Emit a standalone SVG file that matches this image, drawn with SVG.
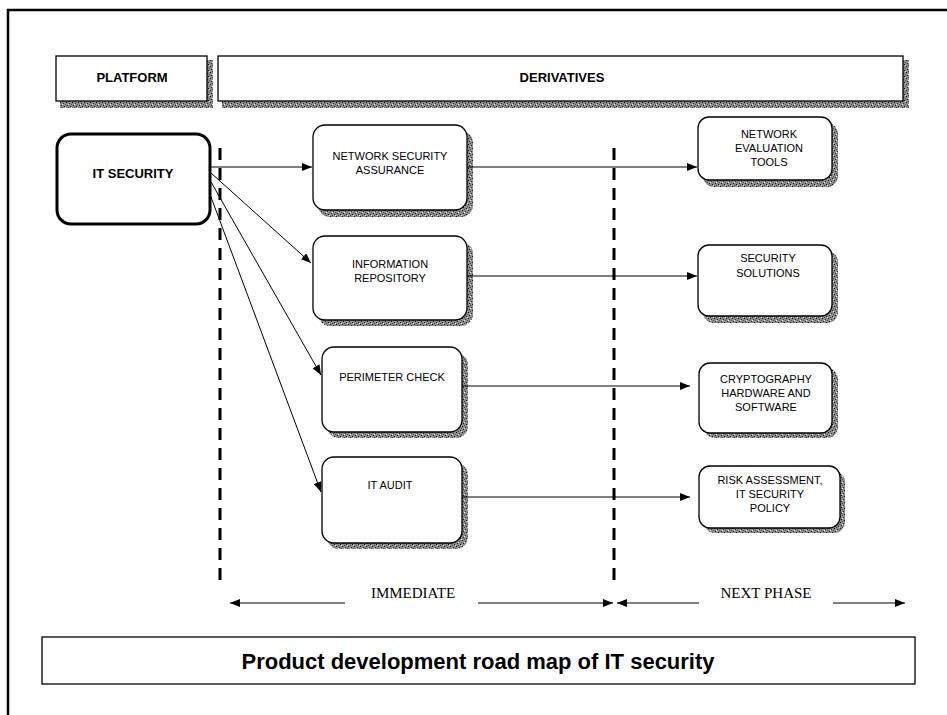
<svg xmlns="http://www.w3.org/2000/svg" width="947" height="715" viewBox="0 0 947 715">
<defs>
<pattern id="grain" width="6" height="6" patternUnits="userSpaceOnUse">
<rect width="6" height="6" fill="#8c8c8c"/>
<rect x="0" y="0" width="1" height="1" fill="#111"/>
<rect x="3" y="1" width="1" height="1" fill="#333"/>
<rect x="1" y="3" width="1" height="1" fill="#222"/>
<rect x="4" y="4" width="1" height="1" fill="#111"/>
<rect x="2" y="5" width="1" height="1" fill="#444"/>
<rect x="5" y="2" width="1" height="1" fill="#555"/>
<rect x="2" y="2" width="1" height="1" fill="#eee"/>
<rect x="5" y="5" width="1" height="1" fill="#ddd"/>
</pattern>
<marker id="ah" viewBox="0 0 10 8" refX="10" refY="4" markerWidth="10" markerHeight="8" markerUnits="userSpaceOnUse" orient="auto">
<path d="M0,0 L10,4 L0,8 Z" fill="#000"/>
</marker>
</defs>
<style>
.frame{fill:none;stroke:#000;stroke-width:2.5}
.hdr{fill:#fff;stroke:#000;stroke-width:1.3}
.shd{fill:url(#grain)}
.box{fill:#fff;stroke:#000;stroke-width:1.3}
.main{fill:#fff;stroke:#000;stroke-width:3}
.t{font-family:"Liberation Sans",Arial,sans-serif;font-size:11px;fill:#000;text-anchor:middle}
.hb{font-family:"Liberation Sans",Arial,sans-serif;font-size:13px;font-weight:bold;fill:#000;text-anchor:middle}
.ser{font-family:"Liberation Serif","Times New Roman",serif;font-size:15px;fill:#000;text-anchor:middle}
.ttl{font-family:"Liberation Sans",Arial,sans-serif;font-size:22px;font-weight:bold;fill:#000;text-anchor:middle}
.c{fill:none;stroke:#000;stroke-width:1}
.dash{fill:none;stroke:#000;stroke-width:3;stroke-dasharray:12 8}
</style>
<rect width="947" height="715" fill="#fff"/>
<path class="frame" d="M8,715 L8,10 L947,10"/>

<g id="hdr-platform">
<rect class="shd" x="60" y="60" width="153" height="48"/>
<rect class="hdr" x="56" y="56" width="151" height="45"/>
<text class="hb" x="132" y="82">PLATFORM</text>
</g>
<g id="hdr-derivatives">
<rect class="shd" x="222" y="60" width="687" height="48"/>
<rect class="hdr" x="218" y="56" width="685" height="45"/>
<text class="hb" x="562" y="82" font-size="12.5">DERIVATIVES</text>
</g>

<g id="it-security">
<rect class="main" x="57" y="134" width="153" height="90" rx="14"/>
<text class="hb" x="133" y="178" font-size="14">IT SECURITY</text>
</g>

<g id="nsa">
<rect class="shd" x="318" y="131" width="155" height="86" rx="12"/>
<rect class="box" x="313" y="125" width="154" height="85" rx="12"/>
<text class="t" x="390" y="160">NETWORK SECURITY</text>
<text class="t" x="390" y="174">ASSURANCE</text>
</g>
<g id="ir">
<rect class="shd" x="318" y="242" width="155" height="84" rx="12"/>
<rect class="box" x="313" y="236" width="154" height="84" rx="12"/>
<text class="t" x="390" y="268">INFORMATION</text>
<text class="t" x="390" y="282">REPOSITORY</text>
</g>
<g id="pc">
<rect class="shd" x="327" y="353" width="141" height="85" rx="12"/>
<rect class="box" x="322" y="347" width="140" height="85" rx="12"/>
<text class="t" x="392" y="381">PERIMETER CHECK</text>
</g>
<g id="ia">
<rect class="shd" x="327" y="463" width="141" height="86" rx="12"/>
<rect class="box" x="322" y="457" width="140" height="86" rx="12"/>
<text class="t" x="390" y="489">IT AUDIT</text>
</g>

<g id="net-eval">
<rect class="shd" x="703" y="123" width="135" height="64" rx="11"/>
<rect class="box" x="698" y="117" width="134" height="63" rx="11"/>
<text class="t" x="769" y="138">NETWORK</text>
<text class="t" x="769" y="152">EVALUATION</text>
<text class="t" x="769" y="166">TOOLS</text>
</g>
<g id="sec-sol">
<rect class="shd" x="703" y="251" width="135" height="72" rx="11"/>
<rect class="box" x="698" y="245" width="134" height="71" rx="11"/>
<text class="t" x="768" y="262">SECURITY</text>
<text class="t" x="768" y="277">SOLUTIONS</text>
</g>
<g id="crypto">
<rect class="shd" x="704" y="368" width="134" height="70" rx="11"/>
<rect class="box" x="699" y="363" width="133" height="70" rx="11"/>
<text class="t" x="766" y="383">CRYPTOGRAPHY</text>
<text class="t" x="766" y="397">HARDWARE AND</text>
<text class="t" x="766" y="411">SOFTWARE</text>
</g>
<g id="risk">
<rect class="shd" x="704" y="471" width="141" height="62" rx="11"/>
<rect class="box" x="699" y="466" width="141" height="62" rx="11"/>
<text class="t" x="770" y="484">RISK ASSESSMENT,</text>
<text class="t" x="770" y="498">IT SECURITY</text>
<text class="t" x="770" y="512">POLICY</text>
</g>

<g id="connectors">
<path class="dash" d="M220,148 L220,580"/>
<path class="dash" d="M614,148 L614,582"/>
<path class="c" d="M211,167 L312,167" marker-end="url(#ah)"/>
<path class="c" d="M211,173 L311,263" marker-end="url(#ah)"/>
<path class="c" d="M211,182 L321,375" marker-end="url(#ah)"/>
<path class="c" d="M211,197 L321,492" marker-end="url(#ah)"/>
<path class="c" d="M467,167 L697,167" marker-end="url(#ah)"/>
<path class="c" d="M467,276 L697,276" marker-end="url(#ah)"/>
<path class="c" d="M462,386 L690,386" marker-end="url(#ah)"/>
<path class="c" d="M462,497 L690,497" marker-end="url(#ah)"/>
<path class="c" d="M345,603 L230,603" marker-end="url(#ah)"/>
<path class="c" d="M478,603 L613,603" marker-end="url(#ah)"/>
<path class="c" d="M699,603 L617,603" marker-end="url(#ah)"/>
<path class="c" d="M833,603 L905,603" marker-end="url(#ah)"/>
</g>
<text class="ser" x="413" y="598">IMMEDIATE</text>
<text class="ser" x="766" y="598">NEXT PHASE</text>

<g id="title">
<rect class="box" x="42" y="637" width="873" height="47" fill="#fff"/>
<text class="ttl" x="478" y="669">Product development road map of IT security</text>
</g>
</svg>
